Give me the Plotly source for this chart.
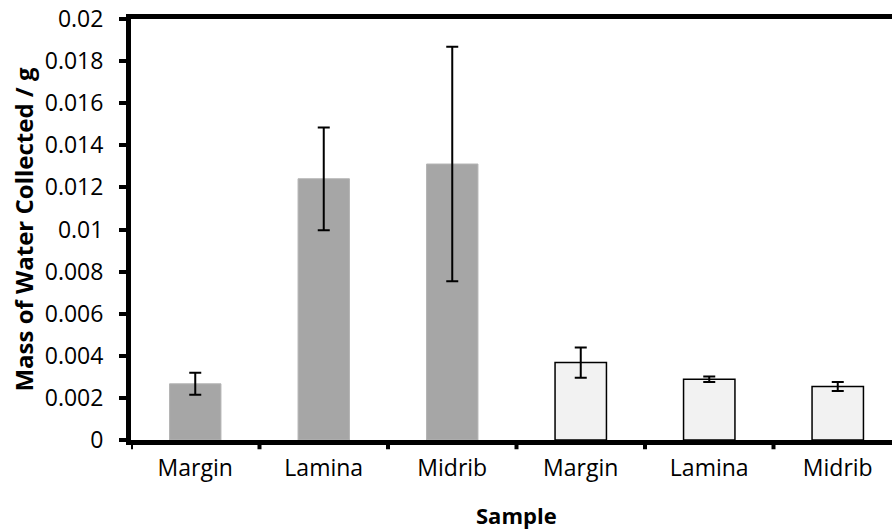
import plotly.graph_objects as go

# Sample sites for the two leaf groups
categories = ["Margin", "Lamina", "Midrib", "Margin", "Lamina", "Midrib"]
group_a_mass = [0.00267, 0.01241, 0.01311]
group_a_err = [0.00052, 0.00244, 0.00557]
group_b_mass = [0.00368, 0.00289, 0.00254]
group_b_err = [0.00072, 0.00013, 0.00021]
y_tickvals = [0, 0.002, 0.004, 0.006, 0.008, 0.01, 0.012, 0.014, 0.016, 0.018, 0.02]
y_ticktext = ["0", "0.002", "0.004", "0.006", "0.008", "0.01", "0.012", "0.014", "0.016", "0.018", "0.02"]

FONT = "Open Sans"
TICK_SIZE = 23
positions = list(range(len(categories)))

fig = go.Figure()
fig.add_trace(go.Bar(
    x=positions[:3], y=group_a_mass,
    marker=dict(color="#a6a6a6", line=dict(color="#b4b4b4", width=1)),
    error_y=dict(type="data", array=group_a_err, visible=True,
                 color="black", thickness=2, width=6),
    width=0.4, showlegend=False,
))
fig.add_trace(go.Bar(
    x=positions[3:], y=group_b_mass,
    marker=dict(color="#f2f2f2", line=dict(color="black", width=1.5)),
    error_y=dict(type="data", array=group_b_err, visible=True,
                 color="black", thickness=2, width=6),
    width=0.4, showlegend=False,
))

x_end = -0.5 + (892 - 131) / 128.5

fig.update_layout(
    width=892, height=529,
    margin=dict(l=131, r=0, t=19, b=89),
    paper_bgcolor="white", plot_bgcolor="white",
    font=dict(family=FONT, size=TICK_SIZE, color="black"),
    xaxis=dict(
        range=[-0.5, x_end],
        tickmode="array", tickvals=positions, ticktext=categories,
        showgrid=False, zeroline=False,
        showline=True, linecolor="black", linewidth=5, mirror=True,
        ticks="", ticklabelstandoff=3,
        tickfont=dict(size=TICK_SIZE, family=FONT),
    ),
    yaxis=dict(
        range=[0, 0.02],
        tickmode="array", tickvals=y_tickvals, ticktext=y_ticktext,
        showgrid=False, zeroline=False,
        showline=True, linecolor="black", linewidth=5, mirror=False,
        ticks="outside", ticklen=7, tickwidth=4, tickcolor="black",
        ticklabelstandoff=11,
        tickfont=dict(size=TICK_SIZE, family=FONT),
        title=dict(text="<b>Mass of Water Collected / g</b>",
                   font=dict(size=24, family=FONT), standoff=6),
    ),
)

# category boundary ticks below the x axis
for b in [i - 0.5 for i in range(len(categories) + 1)]:
    fig.add_shape(type="line", xref="x", yref="paper",
                  x0=b, x1=b, y0=0, y1=-0.022,
                  line=dict(color="black", width=4))

fig.add_annotation(x=(len(categories) - 1) / 2, y=-0.178, xref="x", yref="paper",
                   yanchor="middle",
                   text="<b>Sample</b>", showarrow=False,
                   font=dict(size=22, family=FONT))

fig.write_html("out.html")
